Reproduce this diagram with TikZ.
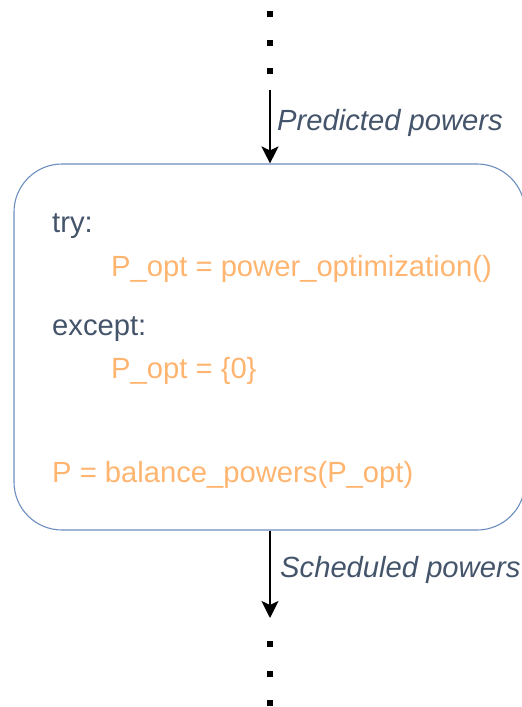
\documentclass[tikz,border=0pt]{standalone}
\usepackage{fontspec}
\setmainfont{Liberation Sans}
\usetikzlibrary{arrows.meta}
\definecolor{codeorange}{HTML}{FFB570}
\definecolor{slate}{HTML}{44546A}
\definecolor{boxblue}{HTML}{6C8EBF}
\tikzset{
  txt/.style={anchor=base west, inner sep=0pt, font=\fontsize{29.2}{35}\selectfont},
  kw/.style={txt, text=slate},
  code/.style={txt, text=codeorange},
  flowlabel/.style={txt, text=slate, font=\fontsize{29.2}{35}\selectfont\itshape},
  dotmark/.style={fill=black, inner sep=0pt, minimum width=6pt, minimum height=5.5pt},
  flow/.style={line width=2.2pt, -{Stealth[length=17pt, width=17pt, inset=4pt]}},
  block/.style={draw=boxblue, line width=1.1pt, rounded corners=48pt,
    minimum width=511pt, minimum height=366pt, inner sep=0pt}
}
\begin{document}
\begin{tikzpicture}[x=1pt, y=-1pt]
\useasboundingbox (0,0) rectangle (522,707);
\clip (0,0) rectangle (522,707);

% processing block
\node[block] (blk) at (269.5,347) {};

% continuation dots above and below
\node[dotmark] (t1) at (270,14) {};
\node[dotmark] (t2) at (270,43) {};
\node[dotmark] (t3) at (270,71) {};
\node[dotmark] (b1) at (270,644) {};
\node[dotmark] (b2) at (270,674) {};
\node[dotmark] (b3) at (270,703) {};

% data flow in and out
\coordinate (inStart) at (270,90);
\coordinate (outEnd) at (270,618);
\draw[flow] (inStart) -- (inStart |- blk.north);
\draw[flow] (outEnd |- blk.south) -- (outEnd);
\node[flowlabel] (lin) at (277,130) {Predicted powers};
\node[flowlabel] (lout) at (280,577) {Scheduled powers};

% block contents
\node[kw]   (ltry) at (52,232) {try:};
\node[code] (lopt) at (111,276) {P\_opt = power\_optimization()};
\node[kw]   (lexc) at (52,335) {except:};
\node[code] (lzero) at (111,378) {P\_opt = \{0\}};
\node[code] (lbal) at (52,482) {P = balance\_powers(P\_opt)};
\end{tikzpicture}
\end{document}
